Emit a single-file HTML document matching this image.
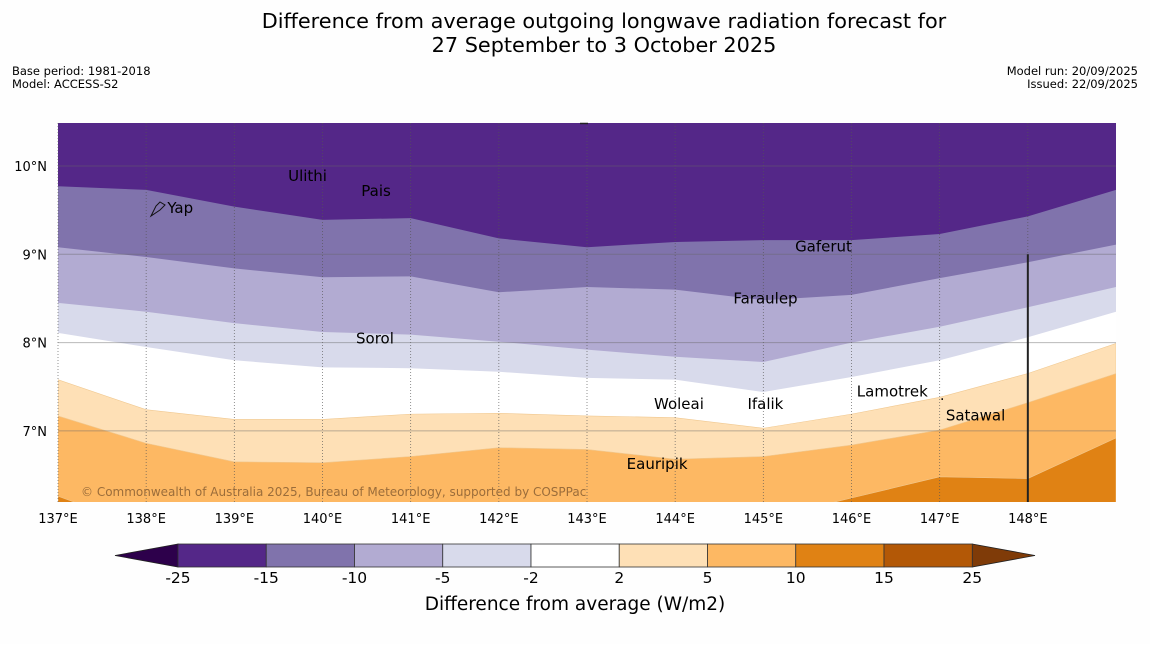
<!DOCTYPE html>
<html><head><meta charset="utf-8">
<style>
html,body{margin:0;padding:0;background:#fff;}
body{width:1150px;height:644px;overflow:hidden;font-family:"DejaVu Sans","Liberation Sans",sans-serif;}
svg text{font-family:"DejaVu Sans","Liberation Sans",sans-serif;}
</style></head>
<body>
<svg id="chart" width="1150" height="644" viewBox="0 0 1150 644" xmlns="http://www.w3.org/2000/svg">
<rect x="0" y="0" width="1150" height="644" fill="#fefefe"/>
<text x="604" y="28" font-size="20.8" text-anchor="middle" fill="#000">Difference from average outgoing longwave radiation forecast for</text>
<text x="604" y="52" font-size="20.8" text-anchor="middle" fill="#000">27 September to 3 October 2025</text>
<text x="12" y="75" font-size="11.5">Base period: 1981-2018</text>
<text x="12" y="88" font-size="11.5">Model: ACCESS-S2</text>
<text x="1138" y="75" font-size="11.5" text-anchor="end">Model run: 20/09/2025</text>
<text x="1138" y="88" font-size="11.5" text-anchor="end">Issued: 22/09/2025</text>
<defs><clipPath id="mapclip"><rect x="58" y="123" width="1058" height="379"/></clipPath></defs>
<g id="map" clip-path="url(#mapclip)"></g>
<g id="overlay"></g>
<g id="axes"></g>
<g id="cbar"></g>
</svg>
<script>
const lons = [137,138,139,140,141,142,143,144,145,146,147,148,149];
const levelColors = ["#8073ac","#b2abd2","#d8daeb","#ffffff","#fee0b6","#fdb863","#e08214"];
const bound15 = [9.77,9.73,9.54,9.39,9.41,9.18,9.08,9.14,9.16,9.16,9.23,9.43,9.73];
const bound10 = [9.08,8.97,8.84,8.74,8.75,8.57,8.63,8.60,8.48,8.54,8.73,8.91,9.11];
const bound5 = [8.45,8.35,8.22,8.12,8.09,8.01,7.92,7.84,7.78,8.00,8.18,8.40,8.63];
const bound2n = [8.11,7.95,7.80,7.72,7.71,7.67,7.60,7.58,7.44,7.61,7.80,8.06,8.35];
const bound2p = [7.58,7.24,7.13,7.13,7.19,7.20,7.17,7.15,7.03,7.19,7.38,7.65,7.99];
const bound5p = [7.17,6.86,6.65,6.64,6.71,6.81,6.79,6.68,6.71,6.84,7.01,7.32,7.65];
const bound10p = [6.26,5.90,5.90,5.90,5.90,5.90,5.90,5.90,6.00,6.24,6.48,6.46,6.92];
const lonTicks = [137,138,139,140,141,142,143,144,145,146,147,148];
const latTicks = [10,9,8,7];
const cbLevels = ["-25","-15","-10","-5","-2","2","5","10","15","25"];
const cbColors = ["#542788","#8073ac","#b2abd2","#d8daeb","#ffffff","#fee0b6","#fdb863","#e08214","#b35806"];
const places = [
 {name:"Ulithi",lon:139.61,lat:9.83},{name:"Pais",lon:140.44,lat:9.66},{name:"Yap",lon:138.24,lat:9.47},
 {name:"Sorol",lon:140.38,lat:7.99},{name:"Gaferut",lon:145.36,lat:9.03},{name:"Faraulep",lon:144.66,lat:8.44},
 {name:"Woleai",lon:143.76,lat:7.25},{name:"Ifalik",lon:144.82,lat:7.25},{name:"Lamotrek",lon:146.06,lat:7.39},
 {name:"Satawal",lon:147.07,lat:7.12},{name:"Eauripik",lon:143.45,lat:6.57}
];
const NS="http://www.w3.org/2000/svg";
const X0=58,X1=1116,Y0=123,Y1=502;
function xS(lon){return X0+(lon-137)*(X1-X0)/12;}
function yS(lat){return 166+(10-lat)*88.3;}
function mk(tag,attrs,parent){const e=document.createElementNS(NS,tag);for(const k in attrs)e.setAttribute(k,attrs[k]);parent.appendChild(e);return e;}
const map=document.getElementById('map');
const bg=mk('rect',{x:X0,y:Y0,width:X1-X0,height:Y1-Y0,fill:"#542788"},map);


const bounds=[bound15,bound10,bound5,bound2n,bound2p,bound5p,bound10p];
const bandNames=['band-minus15-to-minus10','band-minus10-to-minus5','band-minus5-to-minus2','band-minus2-to-2','band-2-to-5','band-5-to-10','band-10-to-15'];
bounds.forEach((b,i)=>{
  let d="M"+xS(lons[0])+","+yS(b[0]);
  for(let j=1;j<lons.length;j++) d+=" L"+xS(lons[j])+","+yS(b[j]);
  d+=" L"+xS(lons[lons.length-1])+",520 L"+xS(lons[0])+",520 Z";
  const p=mk('path',{d:d,fill:levelColors[i],stroke:(i>=4?"#f0c890":"none"),"stroke-width":0.6},map);
  
  
});
const ov=document.getElementById('overlay');
lonTicks.forEach(l=>{
  const g=mk('line',{x1:xS(l),x2:xS(l),y1:Y0,y2:Y1,stroke:"#555",'stroke-width':0.8,'stroke-dasharray':'1,2','opacity':0.8},ov);
  
  
});
latTicks.forEach(l=>{
  const g=mk('line',{x1:X0,x2:X1,y1:yS(l),y2:yS(l),stroke:"#666",'stroke-width':1,'opacity':0.45},ov);
  
  
});
const vl=mk('line',{x1:xS(148),x2:xS(148),y1:yS(9),y2:Y1,stroke:"#222",'stroke-width':2},ov);


const tk=mk('line',{x1:580,x2:588,y1:Y0+0.5,y2:Y0+0.5,stroke:"#222",'stroke-width':1.5},ov);


places.forEach(p=>{
  const t=mk('text',{x:xS(p.lon),y:yS(p.lat),'font-size':15,fill:"#000"},ov);
  t.textContent=p.name;
  
  
});
const yi=mk('path',{d:"M151,216 L156,206 L160,202 L165,205 L160,210 Z",fill:"none",stroke:"#111",'stroke-width':1},ov);


const dot=mk('text',{x:940,y:400,'font-size':14,fill:"#000"},ov);
dot.textContent=".";


const cp=mk('text',{x:81,y:496,'font-size':12,fill:"#8a6034",opacity:0.85},ov);
cp.textContent="© Commonwealth of Australia 2025, Bureau of Meteorology, supported by COSPPac";


const ax=document.getElementById('axes');
lonTicks.forEach(l=>{
  const t=mk('text',{x:xS(l),y:523,'font-size':13,'text-anchor':'middle'},ax);
  t.textContent=l+"°E";
  
  
});
latTicks.forEach(l=>{
  const t=mk('text',{x:47,y:yS(l)+5,'font-size':13,'text-anchor':'end'},ax);
  t.textContent=l+"°N";
  
  
});
const cb=document.getElementById('cbar');
const CB0=178,CBW=88.25,CY0=544,CY1=567;
const lt=mk('path',{d:`M${CB0},${CY0} L115,555.5 L${CB0},${CY1} Z`,fill:"#2d004b",stroke:"#222",'stroke-width':0.8},cb);


const rEnd=CB0+CBW*cbColors.length;
const rt=mk('path',{d:`M${rEnd},${CY0} L1035,555.5 L${rEnd},${CY1} Z`,fill:"#7f3b08",stroke:"#222",'stroke-width':0.8},cb);


cbColors.forEach((c,i)=>{
  const r=mk('rect',{x:CB0+CBW*i,y:CY0,width:CBW,height:CY1-CY0,fill:c,stroke:"#333",'stroke-width':0.8},cb);
  
  
});
cbLevels.forEach((l,i)=>{
  const t=mk('text',{x:CB0+CBW*i,y:583,'font-size':15.5,'text-anchor':'middle'},cb);
  t.textContent=l;
  
  
});
const ct=mk('text',{x:575,y:610,'font-size':18.5,'text-anchor':'middle'},cb);
ct.textContent="Difference from average (W/m2)";


</script>
</body></html>
